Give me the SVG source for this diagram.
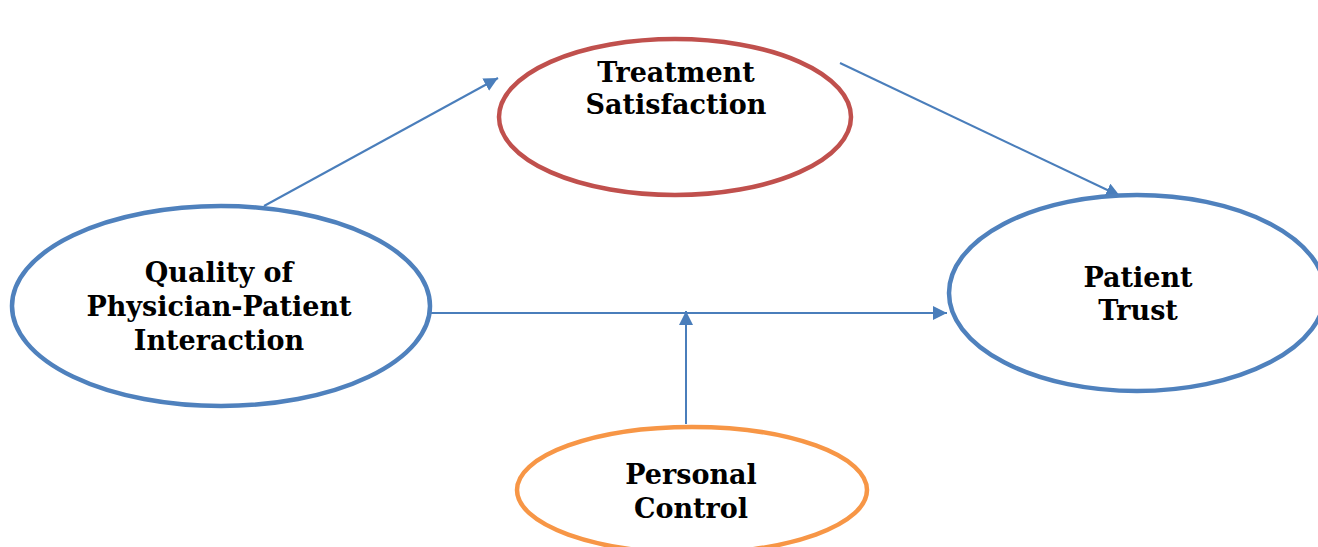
<svg xmlns="http://www.w3.org/2000/svg" width="1318" height="547" viewBox="0 0 1318 547">
<style>
.n{fill:#fff;stroke-width:4.5}
.b{stroke:#4F81BD}.r{stroke:#C0504D}.o{stroke:#F79646}
.t{font-family:"DejaVu Serif","Liberation Serif",serif;font-weight:bold;font-size:27px;fill:#000;text-anchor:middle}
.c{stroke:#4A7EBB;stroke-width:2;fill:none}
</style>
<defs>
<marker id="ah" viewBox="0 0 10 10" refX="10" refY="5" markerWidth="7" markerHeight="7" markerUnits="strokeWidth" orient="auto">
<path d="M0,0 L10,5 L0,10 z" fill="#4A7EBB"/>
</marker>
</defs>
<rect width="1318" height="547" fill="#fff"/>
<g id="connectors">
<line class="c" x1="264" y1="206" x2="498" y2="78" marker-end="url(#ah)"/>
<line class="c" x1="840" y1="63" x2="1120" y2="196" marker-end="url(#ah)"/>
<line class="c" x1="430" y1="313" x2="947" y2="313" marker-end="url(#ah)"/>
<line class="c" x1="686" y1="424" x2="686" y2="311" marker-end="url(#ah)"/>
</g>
<g id="quality">
<ellipse class="n b" cx="221" cy="306" rx="209" ry="100"/>
<text class="t" x="219" y="282">Quality of</text>
<text class="t" x="219" y="316">Physician-Patient</text>
<text class="t" x="219" y="350">Interaction</text>
</g>
<g id="satisfaction">
<ellipse class="n r" cx="675" cy="117" rx="176" ry="78"/>
<text class="t" x="676" y="82">Treatment</text>
<text class="t" x="676" y="114">Satisfaction</text>
</g>
<g id="trust">
<ellipse class="n b" cx="1137" cy="293" rx="188" ry="98"/>
<text class="t" x="1138" y="287">Patient</text>
<text class="t" x="1138" y="320">Trust</text>
</g>
<g id="control">
<ellipse class="n o" cx="692" cy="490" rx="175" ry="63"/>
<text class="t" x="691" y="484">Personal</text>
<text class="t" x="691" y="518">Control</text>
</g>
</svg>
